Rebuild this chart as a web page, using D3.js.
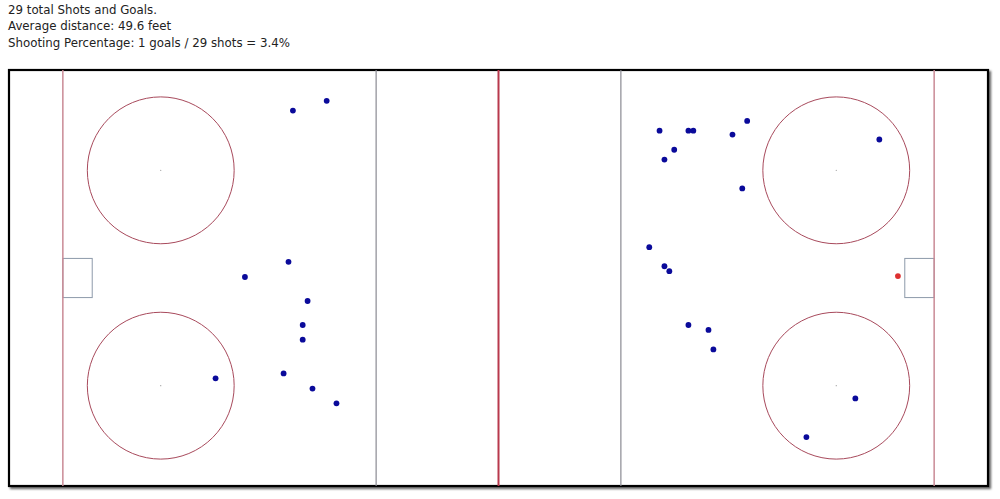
<!DOCTYPE html>
<html>
<head>
<meta charset="utf-8">
<script src="https://cdn.jsdelivr.net/npm/d3@7"></script>
<style>
  body { margin: 0; background: #fff; }
  .info { font-family: "DejaVu Sans", Verdana, sans-serif; font-size: 11.8px; color: #222; }
</style>
</head>
<body>
<svg id="chart"></svg>
<script>
// summary lines above the rink
const infoLines = [
  "29 total Shots and Goals.",
  "Average distance: 49.6 feet",
  "Shooting Percentage: 1 goals / 29 shots = 3.4%"
];

// shots, in rink feet (x along 200 ft, y across 85 ft)
const shotX = [64.9, 58.0, 57.1, 48.2, 61.0, 60.0, 60.0, 56.1, 62.0, 66.9, 42.2,
               132.9, 138.8, 139.8, 135.9, 133.9, 147.8, 150.8, 149.8, 130.8, 133.9,
               134.9, 138.8, 142.9, 143.9, 177.8, 172.9, 162.9];
const shotY = [6.3, 8.3, 39.2, 42.3, 47.2, 52.1, 55.1, 62.0, 65.1, 68.1, 63.0,
               12.4, 12.4, 12.4, 16.3, 18.3, 13.2, 10.4, 24.2, 36.2, 40.1,
               41.1, 52.1, 53.1, 57.1, 14.2, 67.1, 75.0];
// goals
const goalX = [181.6];
const goalY = [42.1];

// rink markings (feet)
const goalLines = [11, 189];
const blueLines = [75, 125];
const centerLine = 100;
const faceoffCircles = [[31, 20.5], [31, 64.5], [169, 20.5], [169, 64.5]];
const circleRadius = 15;

const width = 1000, height = 499;
const svg = d3.select("#chart").attr("width", width).attr("height", height);

// header text
svg.selectAll("text.info")
  .data(infoLines)
  .enter().append("text")
  .attr("class", "info")
  .attr("x", 8)
  .attr("y", (d, i) => 13.5 + i * 16.8)
  .attr("fill", "#222")
  .text(d => d);

const x = d3.scaleLinear().domain([0, 200]).range([9, 988]);
const y = d3.scaleLinear().domain([0, 85]).range([70, 486]);

// drop shadow
const defs = svg.append("defs");
const f = defs.append("filter").attr("id", "shadow")
  .attr("x", "-5%").attr("y", "-5%").attr("width", "110%").attr("height", "115%");
f.append("feDropShadow").attr("dx", 2).attr("dy", 2).attr("stdDeviation", 1.2)
  .attr("flood-color", "#000").attr("flood-opacity", 0.6);

svg.append("rect")
  .attr("x", x(0)).attr("y", y(0))
  .attr("width", x(200) - x(0)).attr("height", y(85) - y(0))
  .attr("fill", "#fff")
  .attr("stroke", "#000").attr("stroke-width", 2.2)
  .attr("filter", "url(#shadow)");

const rink = svg.append("g");

// goal creases
goalLines.forEach(g => {
  const x0 = g === 11 ? x(11) : x(183);
  rink.append("rect")
    .attr("x", x0).attr("y", y(38.5))
    .attr("width", x(17) - x(11)).attr("height", y(46.5) - y(38.5))
    .attr("fill", "none").attr("stroke", "#8d9aaa").attr("stroke-width", 1);
});

rink.selectAll("line.goal")
  .data(goalLines)
  .enter().append("line")
  .attr("x1", d => x(d)).attr("x2", d => x(d))
  .attr("y1", y(0)).attr("y2", y(85))
  .attr("stroke", "#c98a95").attr("stroke-width", 1.5);

rink.selectAll("line.blue")
  .data(blueLines)
  .enter().append("line")
  .attr("x1", d => x(d)).attr("x2", d => x(d))
  .attr("y1", y(0)).attr("y2", y(85))
  .attr("stroke", "#8a8a92").attr("stroke-width", 1.2);

rink.append("line")
  .attr("x1", x(centerLine)).attr("x2", x(centerLine))
  .attr("y1", y(0)).attr("y2", y(85))
  .attr("stroke", "#b8384c").attr("stroke-width", 2);

rink.selectAll("circle.faceoff")
  .data(faceoffCircles)
  .enter().append("circle")
  .attr("cx", d => x(d[0])).attr("cy", d => y(d[1]))
  .attr("r", x(circleRadius) - x(0))
  .attr("fill", "none").attr("stroke", "#a84a5c").attr("stroke-width", 1);

rink.selectAll("circle.dot")
  .data(faceoffCircles)
  .enter().append("circle")
  .attr("cx", d => x(d[0])).attr("cy", d => y(d[1]))
  .attr("r", 0.6).attr("fill", "#999");

// shots
svg.selectAll("circle.shot")
  .data(d3.zip(shotX, shotY))
  .enter().append("circle")
  .attr("cx", d => x(d[0])).attr("cy", d => y(d[1]))
  .attr("r", 2.9).attr("fill", "#0a0a9a");

svg.selectAll("circle.goal")
  .data(d3.zip(goalX, goalY))
  .enter().append("circle")
  .attr("cx", d => x(d[0])).attr("cy", d => y(d[1]))
  .attr("r", 2.9).attr("fill", "#dd3030");
</script>
</body>
</html>
